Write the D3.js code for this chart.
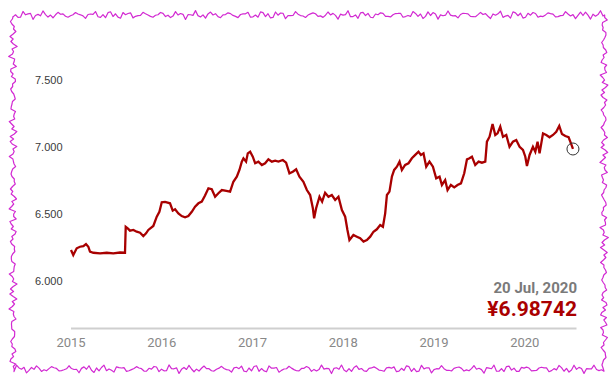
<!DOCTYPE html>
<html><head><meta charset="utf-8">
<script src="https://cdn.jsdelivr.net/npm/d3@7"></script>
<style>
html,body{margin:0;padding:0;background:#fff;}
svg{display:block;}
</style>
</head><body>
<svg id="chart" width="614" height="380"></svg>
<script>
// Decimal-year positions and USD/CNY rate
const years = [
2015.000,2015.025,2015.063,2015.099,2015.136,2015.165,2015.191,2015.209,2015.246,2015.320,
2015.394,2015.466,2015.540,2015.595,2015.603,2015.625,2015.650,2015.687,2015.724,2015.761,
2015.797,2015.827,2015.852,2015.907,2015.945,2015.974,2016.000,2016.036,2016.091,2016.121,
2016.147,2016.183,2016.220,2016.257,2016.293,2016.331,2016.367,2016.404,2016.441,2016.477,
2016.514,2016.551,2016.588,2016.624,2016.662,2016.698,2016.753,2016.789,2016.827,2016.856,
2016.882,2016.900,2016.929,2016.948,2016.974,2017.003,2017.029,2017.065,2017.103,2017.139,
2017.175,2017.213,2017.249,2017.286,2017.334,2017.370,2017.407,2017.444,2017.481,2017.517,
2017.561,2017.599,2017.635,2017.665,2017.679,2017.701,2017.738,2017.767,2017.800,2017.837,
2017.874,2017.911,2017.947,2017.985,2018.021,2018.046,2018.068,2018.112,2018.150,2018.186,
2018.223,2018.260,2018.297,2018.333,2018.370,2018.407,2018.437,2018.462,2018.481,2018.509,
2018.536,2018.561,2018.591,2018.620,2018.646,2018.682,2018.719,2018.756,2018.793,2018.829,
2018.856,2018.884,2018.914,2018.950,2018.988,2019.024,2019.061,2019.087,2019.123,2019.149,
2019.186,2019.223,2019.259,2019.297,2019.333,2019.363,2019.391,2019.418,2019.454,2019.491,
2019.528,2019.565,2019.583,2019.612,2019.645,2019.675,2019.700,2019.730,2019.760,2019.796,
2019.832,2019.870,2019.906,2019.943,2019.980,2020.006,2020.024,2020.053,2020.090,2020.116,
2020.141,2020.163,2020.201,2020.237,2020.273,2020.311,2020.347,2020.380,2020.410,2020.447,
2020.483,2020.509,2020.531
];
const rates = [
6.234,6.196,6.246,6.258,6.263,6.278,6.258,6.221,6.213,6.209,
6.213,6.209,6.215,6.213,6.407,6.395,6.378,6.383,6.370,6.363,
6.338,6.358,6.383,6.413,6.482,6.519,6.590,6.592,6.582,6.527,
6.537,6.507,6.487,6.478,6.487,6.519,6.557,6.582,6.595,6.640,
6.694,6.687,6.631,6.657,6.681,6.676,6.669,6.743,6.781,6.831,
6.893,6.918,6.893,6.955,6.967,6.930,6.881,6.893,6.868,6.881,
6.910,6.893,6.900,6.893,6.905,6.885,6.806,6.818,6.836,6.781,
6.743,6.681,6.644,6.545,6.470,6.545,6.631,6.594,6.661,6.631,
6.644,6.607,6.631,6.532,6.482,6.383,6.308,6.346,6.333,6.321,
6.296,6.308,6.333,6.370,6.388,6.420,6.407,6.507,6.644,6.669,
6.781,6.831,6.855,6.893,6.831,6.868,6.881,6.918,6.943,6.967,
6.943,6.955,6.855,6.893,6.855,6.769,6.781,6.719,6.756,6.681,
6.719,6.701,6.719,6.731,6.806,6.910,6.918,6.930,6.868,6.893,
6.885,6.893,7.042,7.079,7.174,7.092,7.104,7.154,7.079,7.092,
7.004,7.042,7.054,7.004,6.980,6.930,6.860,6.943,7.004,6.967,
7.042,6.955,7.104,7.092,7.075,7.092,7.116,7.159,7.099,7.084,
7.075,7.030,6.98742
];
const yTicks = [6.0, 6.5, 7.0, 7.5];
const xTicks = [2015, 2016, 2017, 2018, 2019, 2020];
const lastDateLabel = "20 Jul, 2020";
const lastValueLabel = "¥6.98742";

const svg = d3.select("#chart");

// decorative torn frame
(function(){
  const x0 = 13, y0 = 15, x1 = 604, y1 = 369;
  const off = i => 2.0*Math.sin(i*0.93) + 1.5*Math.sin(i*2.37+1.3) + 1.1*Math.sin(i*4.11+0.4);
  const pts = [];
  let k = 0;
  for (let x = x0; x <= x1; x += 2.5) pts.push([x, y0 + off(k++)]);
  for (let y = y0; y <= y1; y += 2.5) pts.push([x1 + off(k++), y]);
  for (let x = x1; x >= x0; x -= 2.5) pts.push([x, y1 + off(k++)]);
  for (let y = y1; y >= y0; y -= 2.5) pts.push([x0 + off(k++), y]);
  svg.append("path")
    .attr("d", d3.line()(pts) + "Z")
    .attr("fill", "#fff")
    .attr("stroke", "#d22ad2")
    .attr("stroke-width", 1.2)
    .attr("stroke-linejoin", "round");
})();

const x = d3.scaleLinear().domain([2015, 2020.57]).range([71, 576.5]);
const y = d3.scaleLinear().domain([6, 7.5]).range([281.3, 80.3]);

// y labels
svg.append("g").selectAll("text").data(yTicks).join("text")
  .attr("x", 35).attr("y", d => y(d) + 4)
  .attr("font-family", "Liberation Sans, Arial, sans-serif")
  .attr("font-size", 11).attr("fill", "#3a3a3a")
  .text(d => d3.format(".3f")(d));

// x axis line
svg.append("line")
  .attr("x1", x.range()[0]).attr("x2", x.range()[1])
  .attr("y1", 328.5).attr("y2", 328.5)
  .attr("stroke", "#cfcfcf").attr("stroke-width", 2);

svg.append("g").selectAll("text").data(xTicks).join("text")
  .attr("x", d => x(d)).attr("y", 346.5)
  .attr("text-anchor", "middle")
  .attr("font-family", "Roboto, sans-serif")
  .attr("font-size", 13).attr("fill", "#888")
  .text(d => d);

// line
const data = years.map((t, i) => ({t, v: rates[i]}));
svg.append("path")
  .datum(data)
  .attr("fill", "none")
  .attr("stroke", "#a80000")
  .attr("stroke-width", 2.3)
  .attr("stroke-linejoin", "miter")
  .attr("d", d3.line().x(d => x(d.t)).y(d => y(d.v)));

const last = data[data.length - 1];
svg.append("circle")
  .attr("cx", x(last.t)).attr("cy", y(last.v)).attr("r", 6)
  .attr("fill", "none").attr("stroke", "#333").attr("stroke-width", 1);

svg.append("text")
  .attr("x", 577).attr("y", 293)
  .attr("text-anchor", "end")
  .attr("font-family", "Roboto, sans-serif").attr("font-weight", "bold")
  .attr("font-size", 15).attr("fill", "#7a7a7a")
  .text(lastDateLabel);

svg.append("text")
  .attr("x", 577).attr("y", 315.5)
  .attr("text-anchor", "end")
  .attr("font-family", "Roboto, sans-serif").attr("font-weight", "bold")
  .attr("font-size", 21).attr("fill", "#aa0000")
  .text(lastValueLabel);
</script>
</body></html>
